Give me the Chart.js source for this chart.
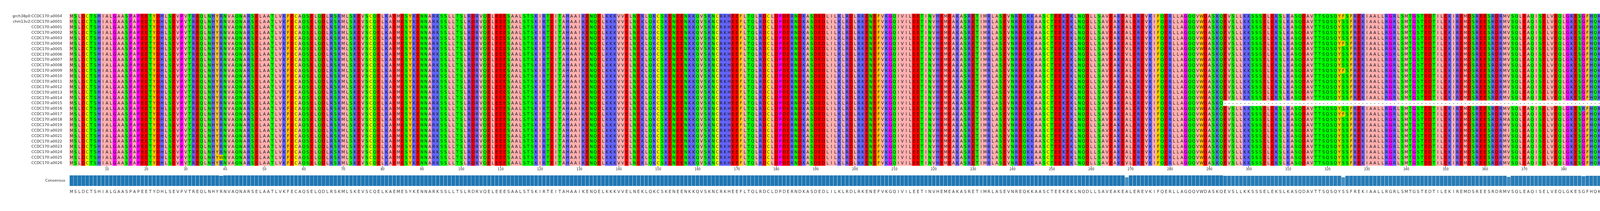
<!DOCTYPE html>
<html lang="en">
<head>
<meta charset="UTF-8">
<title>CCDC170 alignment</title>
<script src="https://cdn.jsdelivr.net/npm/chart.js"></script>
<style>
  body { margin: 0; background: #fff; width: 7450px; height: 539px; position: relative; overflow: hidden; }
  canvas { position: absolute; left: 0; }
</style>
</head>
<body>
<canvas id="msa" width="7450" height="446" style="top:0"></canvas>
<canvas id="cons" width="7450" height="70" style="top:446px"></canvas>
<script>
// alignment data
const rowNames = ['grch38p0:CCDC170:a0004', 'chm13v2:CCDC170:a0001']
for (let i = 1; i <= 26; i++) rowNames.push('CCDC170:a' + String(i).padStart(4, '0'))

// majority sequence, in chunks by column range
const baseChunks = [
  'MSLDCTSHIALGAASPAPEETY',
  'DHLSEVPVTREQLNHYRNVAQNARSELAATLVKFECAQSELQDLRSKMLSKEVSCQELKAEMESYKENN',
  'ARKSSLLTSLRDRVQELEEESAALSTSKIRTEITAHAAIKENQELKKKVVELNEKLQKCSKENEENKKQ',
  'VSKNCRKHEEFLTQLRDCLDPDERNDKASDEDLILKLRDLRKENEFVKGQIVILEETINVHEMEAKASRE',
  'TIMRLASEVNREQKKAASCTEEKEKLNQDLLSAVEAKEALEREVKIFQERLLAGQQVWDASKQEVSLLK',
  'KSSSELEKSLKASQDAVTTSQSQYSSFREKIAALLRGRLSMTGSTEDTILEKIREMDSREESRDRMVSQL',
  'EAQISELVEQLGKESGFHQKALQRAQKAENMLETLQGQLTHLEAELVSGGVLRDNLNFEKQKYLKFLDQ',
  'LSQKMKLDQMAAELGFDMRLDVVLARTEQLVRLESNAVIENKTIAHNLQRKLKTQKERLESKELHMSLLR',
  'QKIAQLEEEKQARTALVVERDNAHLTIRNLQKKVERLQKELNTCRDLHTELKAKLADTNELKIKTLEQT',
  'KAIEDLNKSRDQLEKMKEKAEKKLMSVKSELDTTEHEAKENKERARNMIEVVTSEMKTLKKSLEEAEKRE',
  'KQLADFREVVSQMLGLNVTSLALPDYEIIKCLERLIHSHQHHFVTCACLKDVTTGQERHPQGHLQLLH'
]

// [row, column (1-based), residue]
const variants = [
  [26, 39, 'W'],
  [6, 269, 'V'], [7, 269, 'V'], [9, 269, 'V'], [26, 269, 'V'], [27, 269, 'V'],
  [0, 324, 'F'], [5, 324, 'F'], [10, 324, 'F'], [18, 324, 'F'],
  [14, 366, 'I'], [21, 366, 'I'], [19, 366, 'A'],
  [17, 385, 'R'], [15, 393, 'K'],
  [23, 460, 'M'],
  [8, 479, 'K'], [12, 479, 'K'], [20, 479, 'K'], [27, 479, 'K'],
  [9, 553, 'Q'], [18, 553, 'Q'], [24, 568, 'D'],
  [11, 615, 'D'], [20, 615, 'D'], [22, 613, 'Y']
]
const rows604I = [3, 7, 9, 10, 11, 12, 13, 15, 18, 19, 20, 27]
const rows683V = [0, 1, 2, 5, 6, 8, 13, 17, 21, 23, 24, 26]

// truncated sequence
const gapRow = 16
const gapFrom = 294

const zappo = {
  A: '#ffafaf', I: '#ffafaf', L: '#ffafaf', M: '#ffafaf', V: '#ffafaf',
  F: '#ffc800', W: '#ffc800', Y: '#ffc800',
  K: '#6464ff', R: '#6464ff', H: '#6464ff',
  D: '#ff0000', E: '#ff0000',
  S: '#00ff00', T: '#00ff00', N: '#00ff00', Q: '#00ff00',
  G: '#ff00ff', P: '#ff00ff',
  C: '#ffff00', '-': '#ffffff'
}

// build sequences
const base = baseChunks.join('')
const nCol = base.length
const seqs = rowNames.map(() => base.split(''))
variants.forEach(([r, c, a]) => { seqs[r][c - 1] = a })
rows604I.forEach(r => { seqs[r][603] = 'I' })
rows683V.forEach(r => { seqs[r][682] = 'V' })
for (let c = gapFrom - 1; c < nCol; c++) seqs[gapRow][c] = '-'
const lengths = seqs.map(s => String(s.filter(a => a !== '-').length))

// consensus
const consLetters = []
const consFrac = []
for (let c = 0; c < nCol; c++) {
  const cnt = {}
  seqs.forEach(s => { cnt[s[c]] = (cnt[s[c]] || 0) + 1 })
  let best = null
  Object.keys(cnt).forEach(k => { if (k !== '-' && (best === null || cnt[k] > cnt[best])) best = k })
  consLetters.push(best)
  consFrac.push(cnt[best] / seqs.length)
}

// cells, merged into runs of same colour per row
const cells = []
const cellColors = []
seqs.forEach((s, r) => {
  let start = 0
  for (let c = 1; c <= nCol; c++) {
    if (c === nCol || zappo[s[c]] !== zappo[s[start]]) {
      cells.push({ x: [start, c], y: rowNames[r] })
      cellColors.push(zappo[s[start]])
      start = c
    }
  }
})

const LEFT = 178, RIGHT = 7450 - 7385

const letterPlugin = {
  id: 'letters',
  afterDatasetsDraw(chart) {
    const ctx = chart.ctx, xs = chart.scales.x, ys = chart.scales.y
    ctx.save()
    ctx.font = '10.5px "DejaVu Sans"'
    ctx.fillStyle = '#111'
    ctx.textAlign = 'center'
    ctx.textBaseline = 'middle'
    seqs.forEach((s, r) => {
      const py = ys.getPixelForValue(r)
      s.forEach((a, c) => ctx.fillText(a, xs.getPixelForValue(c + 0.5), py + 0.5))
    })
    ctx.restore()
  }
}

new Chart(document.getElementById('msa'), {
  type: 'bar',
  data: {
    labels: rowNames,
    datasets: [{ data: cells, backgroundColor: cellColors, borderWidth: 0, barPercentage: 1, categoryPercentage: 1 }]
  },
  plugins: [letterPlugin],
  options: {
    indexAxis: 'y',
    responsive: false,
    animation: false,
    devicePixelRatio: 1,
    layout: { padding: { top: 35 } },
    plugins: { legend: { display: false }, tooltip: { enabled: false } },
    scales: {
      x: {
        type: 'linear', min: 0, max: nCol, position: 'bottom',
        afterBuildTicks: s => { const t = []; for (let v = 10; v <= nCol; v += 10) t.push({ value: v - 0.5 }); s.ticks = t },
        afterFit: s => { s.height = 21 },
        ticks: { callback: v => String(v + 0.5), font: { family: 'DejaVu Sans', size: 8 }, color: '#222', padding: 1, maxRotation: 0, autoSkip: false },
        grid: { drawOnChartArea: false, drawTicks: true, tickLength: 4, color: '#222' },
        border: { display: false }
      },
      y: {
        type: 'category', position: 'left',
        afterFit: s => { s.width = LEFT },
        ticks: { font: { family: 'DejaVu Sans', size: 9.5 }, color: '#222', padding: 11, autoSkip: false },
        grid: { display: false }, border: { display: false }
      },
      y2: {
        type: 'category', position: 'right', display: true, labels: lengths,
        afterFit: s => { s.width = RIGHT },
        ticks: { font: { family: 'DejaVu Sans', size: 9.5 }, color: '#222', padding: 11, align: 'start', autoSkip: false },
        grid: { display: false }, border: { display: false }
      }
    }
  }
})

new Chart(document.getElementById('cons'), {
  type: 'bar',
  data: {
    labels: consLetters,
    datasets: [{
      data: consFrac,
      backgroundColor: consFrac.map(f => 'rgba(31,119,180,' + f.toFixed(3) + ')'),
      borderColor: '#ffffff', borderWidth: { left: 0.6, right: 0.6, top: 0, bottom: 0 },
      barPercentage: 1, categoryPercentage: 1
    }]
  },
  options: {
    responsive: false,
    animation: false,
    devicePixelRatio: 1,
    layout: { padding: { left: LEFT, right: RIGHT, top: 2 } },
    plugins: { legend: { display: false }, tooltip: { enabled: false } },
    scales: {
      x: {
        afterFit: s => { s.height = 41 },
        ticks: { font: { family: 'DejaVu Sans', size: 10.5 }, color: '#333', padding: 1, maxRotation: 0, autoSkip: false },
        grid: { display: false }, border: { display: false }
      },
      y: { min: 0, max: 1, display: false }
    }
  },
  plugins: [{
    id: 'consLabel',
    afterDraw(chart) {
      const ctx = chart.ctx, a = chart.chartArea
      ctx.save()
      ctx.font = '9.5px "DejaVu Sans"'
      ctx.fillStyle = '#222'
      ctx.textAlign = 'right'
      ctx.textBaseline = 'middle'
      ctx.fillText('Consensus', LEFT - 11, (a.top + a.bottom) / 2)
      ctx.restore()
    }
  }]
})
</script>
</body>
</html>
